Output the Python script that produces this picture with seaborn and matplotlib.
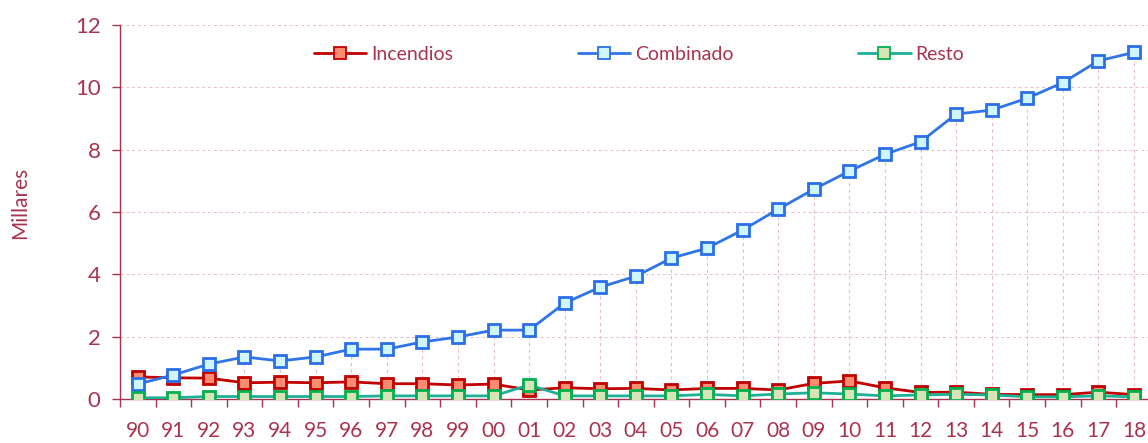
import matplotlib
matplotlib.use("Agg")
import matplotlib.pyplot as plt
import seaborn as sns
import pandas as pd
import numpy as np
from matplotlib.ticker import MultipleLocator, FixedLocator

years = ["90", "91", "92", "93", "94", "95", "96", "97", "98", "99", "00", "01", "02", "03",
         "04", "05", "06", "07", "08", "09", "10", "11", "12", "13", "14", "15", "16", "17", "18"]
incendios = [0.71, 0.68, 0.67, 0.52, 0.54, 0.52, 0.55, 0.49, 0.49, 0.45, 0.48, 0.29, 0.36, 0.33,
             0.34, 0.29, 0.34, 0.34, 0.29, 0.50, 0.58, 0.36, 0.21, 0.22, 0.15, 0.14, 0.14, 0.22, 0.14]
combinado = [0.48, 0.77, 1.12, 1.35, 1.22, 1.35, 1.60, 1.60, 1.83, 1.99, 2.21, 2.21, 3.08, 3.59,
             3.94, 4.52, 4.84, 5.42, 6.09, 6.73, 7.31, 7.85, 8.25, 9.14, 9.27, 9.65, 10.15, 10.85, 11.12]
resto = [0.04, 0.04, 0.08, 0.08, 0.08, 0.08, 0.08, 0.10, 0.10, 0.10, 0.10, 0.45, 0.10, 0.10,
         0.10, 0.10, 0.15, 0.10, 0.16, 0.20, 0.16, 0.10, 0.13, 0.15, 0.13, 0.07, 0.07, 0.10, 0.07]
series_names = ["Incendios", "Combinado", "Resto"]

sns.set_theme(style="white")
plt.rcParams['font.family'] = ['Lato', 'DejaVu Sans']

txt = '#A8344F'
grid_c = '#E8BCC6'
styles = {
    "Incendios": dict(color='#C00000', mfc='#FF8C70', mec='#C00000'),
    "Combinado": dict(color='#2F74E8', mfc='#CFF6FF', mec='#2A6FE8'),
    "Resto": dict(color='#1FB09A', mfc='#D9E3B8', mec='#00B04C'),
}

fig = plt.figure(figsize=(11.48, 4.43), dpi=100)
ax = fig.add_axes([0.1045, 0.0993, 0.8988, 0.8443])

idx = np.arange(len(years))
data = {"Incendios": incendios, "Combinado": combinado, "Resto": resto}

# drop lines from the highest series down to the axis
top_vals = np.max(np.array([incendios, combinado, resto]), axis=0)
ax.vlines(idx, 0, top_vals, colors=grid_c, linestyles=(0, (3, 3)), linewidth=0.8, zorder=1)

for name in series_names:
    df = pd.DataFrame({"x": idx, "y": data[name]})
    st = styles[name]
    sns.lineplot(data=df, x="x", y="y", ax=ax, color=st['color'], linewidth=2.0,
                 marker='s', markersize=8.5, markerfacecolor=st['mfc'],
                 markeredgecolor=st['mec'], markeredgewidth=2.0, label=name,
                 zorder=3)

ax.set_xlim(-0.5, len(years) - 0.5)
ax.set_ylim(0, 12)
ax.yaxis.set_major_locator(MultipleLocator(2))
ax.set_xticks(idx)
ax.set_xticklabels(years)
ax.xaxis.set_minor_locator(FixedLocator(np.arange(-0.5, len(years), 1.0)))

for s in ['top', 'right']:
    ax.spines[s].set_visible(False)
for s in ['left', 'bottom']:
    ax.spines[s].set_color(txt)
    ax.spines[s].set_linewidth(1.0)

ax.tick_params(axis='x', which='major', length=0, pad=16, labelsize=15, labelcolor=txt)
ax.tick_params(axis='x', which='minor', length=6, width=1, color=txt, direction='out', bottom=True)
ax.tick_params(axis='y', which='major', length=6, width=1, color=txt, direction='out',
               left=True, pad=8, labelsize=16, labelcolor=txt)

ax.grid(True, which='major', axis='y', color=grid_c, linestyle=(0, (3, 3)), linewidth=0.7)
ax.set_axisbelow(True)

ax.set_xlabel("")
ax.set_ylabel("Millares", color=txt, fontsize=15)
ax.yaxis.label.set_va('center')
ax.yaxis.set_label_coords(-0.097, 0.524)

leg = ax.legend(loc='center left', bbox_to_anchor=(0.171, 0.922), ncol=3, frameon=False,
                fontsize=14, handlelength=2.7, columnspacing=6.4, handletextpad=0.25)
for t in leg.get_texts():
    t.set_color(txt)
for h in leg.legend_handles:
    h.set_markersize(8)
    h.set_markeredgewidth(1.3)

fig.savefig("out.png", dpi=100)
